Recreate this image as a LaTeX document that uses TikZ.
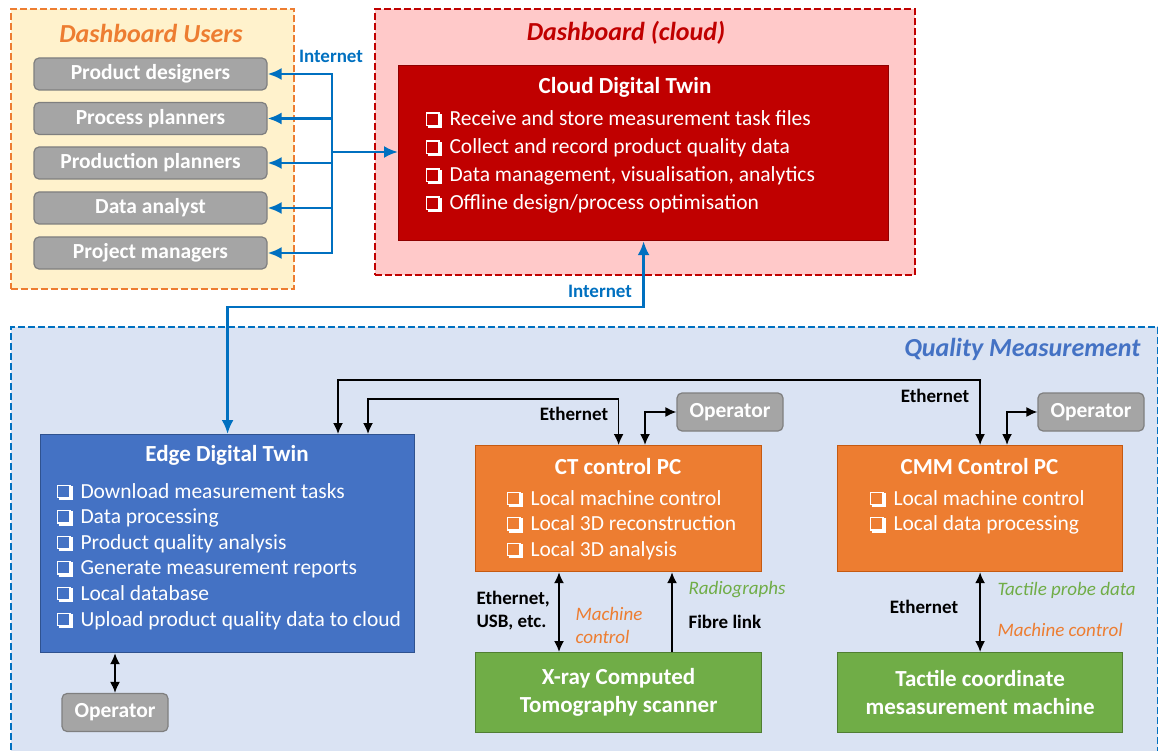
\documentclass[tikz,border=0pt]{standalone}
\usepackage{fontspec}
\setmainfont{Carlito}
\usetikzlibrary{arrows.meta,positioning}

\definecolor{usrfill}{HTML}{FFF2CC}
\definecolor{usrline}{HTML}{ED7D31}
\definecolor{cldfill}{HTML}{FFC9C9}
\definecolor{cldline}{HTML}{C00000}
\definecolor{cldedge}{HTML}{8F0000}
\definecolor{qmfill}{HTML}{DAE3F3}
\definecolor{qmline}{HTML}{0070C0}
\definecolor{qmtitle}{HTML}{4472C4}
\definecolor{edgefill}{HTML}{4472C4}
\definecolor{edgeline}{HTML}{2F528F}
\definecolor{pcfill}{HTML}{ED7D31}
\definecolor{pcline}{HTML}{C55A11}
\definecolor{mchfill}{HTML}{70AD47}
\definecolor{mchline}{HTML}{507E32}
\definecolor{opfill}{HTML}{A5A5A5}
\definecolor{opline}{HTML}{7F7F7F}
\definecolor{netblue}{HTML}{0070C0}

% shadowed check box in front of each list item
\newcommand{\chk}{\raisebox{1.2pt}{%
  \rlap{\kern2pt\rule[-3.4pt]{13.5pt}{2.2pt}}%
  \rlap{\kern13.3pt\rule[-3.4pt]{2.2pt}{14.3pt}}%
  {\fboxrule=1.2pt\fboxsep=0pt\fbox{\rule{0pt}{11.1pt}\rule{10.9pt}{0pt}}}}%
  \hspace{10pt}}
\newcommand{\mainsize}{\fontsize{21.5}{25}\selectfont}
\newcommand{\labelsize}{\fontsize{19}{23}\selectfont}

\begin{document}
\begin{tikzpicture}[x=1pt, y=-1pt,
    panel/.style={draw, line width=1.8pt, dash pattern=on 7pt off 3pt, anchor=north west, inner sep=0pt},
    paneltitle/.style={font=\fontsize{26}{30}\selectfont\bfseries\itshape},
    block/.style={draw, line width=1.2pt, anchor=north west, inner sep=0pt},
    blocktitle/.style={text=white, font=\fontsize{23}{27}\selectfont\bfseries},
    item/.style={text=white, font=\mainsize, anchor=west, inner sep=0pt, text height=15pt, text depth=5pt},
    user/.style={draw=opline, fill=opfill, line width=1.2pt, rounded corners=5pt, text=white, font=\mainsize\bfseries, minimum width=233pt, minimum height=32pt, inner sep=0pt},
    operator/.style={user, minimum width=106pt, minimum height=38pt},
    machine/.style={block, draw=mchline, fill=mchfill, minimum width=286pt, minimum height=80pt, text=white, align=center, font=\fontsize{23}{28}\selectfont\bfseries},
    net/.style={draw=netblue, line width=2.6pt, >={Latex[length=14pt,width=12pt]}},
    link/.style={draw=black, line width=1.7pt, >={Latex[length=11pt,width=10pt]}},
    netlabel/.style={text=netblue, font=\labelsize\bfseries},
    linklabel/.style={font=\labelsize\bfseries},
    note/.style={font=\labelsize\itshape}]
    \useasboundingbox (0,0) rectangle (1158,751);

    % Panels
    \node[panel, draw=usrline, fill=usrfill, minimum width=283pt, minimum height=280pt] (users) at (10,8) {};
    \node[panel, draw=cldline, fill=cldfill, minimum width=540pt, minimum height=266pt] (cloud) at (374,8) {};
    \node[panel, draw=qmline, fill=qmfill, minimum width=1147pt, minimum height=440pt] (qm) at (10,326) {};
    \node[paneltitle, text=usrline] (userstitle) at (151,33) {Dashboard Users};
    \node[paneltitle, text=cldline] (cloudtitle) at (626,33) {Dashboard (cloud)};
    \node[paneltitle, text=qmtitle, anchor=east] (qmtitle) at (1144,349) {Quality Measurement};

    % Dashboard users
    \node[user] (u1) at (150.5,74)  {Product designers};
    \node[user] (u2) at (150.5,118.5) {Process planners};
    \node[user] (u3) at (150.5,163) {Production planners};
    \node[user] (u4) at (150.5,208) {Data analyst};
    \node[user] (u5) at (150.5,253) {Project managers};

    % Cloud digital twin
    \node[block, draw=cldedge, fill=cldline, minimum width=490pt, minimum height=175pt] (cdt) at (398,65) {};
    \node[blocktitle] (cdttitle) at (625,87) {Cloud Digital Twin};
    \node[item] (cdt1) at (426,121) {\chk Receive and store measurement task files};
    \node[item] (cdt2) at (426,149) {\chk Collect and record product quality data};
    \node[item] (cdt3) at (426,177) {\chk Data management, visualisation, analytics};
    \node[item] (cdt4) at (426,205) {\chk Offline design/process optimisation};

    % Edge digital twin
    \node[block, draw=edgeline, fill=edgefill, minimum width=374pt, minimum height=218pt] (edt) at (40,434) {};
    \node[blocktitle] (edttitle) at (227,455) {Edge Digital Twin};
    \node[item] (edt1) at (57,493) {\chk Download measurement tasks};
    \node[item] (edt2) at (57,518.5) {\chk Data processing};
    \node[item] (edt3) at (57,544) {\chk Product quality analysis};
    \node[item] (edt4) at (57,569.5) {\chk Generate measurement reports};
    \node[item] (edt5) at (57,595) {\chk Local database};
    \node[item] (edt6) at (57,621) {\chk Upload product quality data to cloud};

    % Control PCs
    \node[block, draw=pcline, fill=pcfill, minimum width=286pt, minimum height=126pt] (ct) at (475,445) {};
    \node[blocktitle] (cttitle) at (618,467) {CT control PC};
    \node[item] (ct1) at (507,500) {\chk Local machine control};
    \node[item] (ct2) at (507,525.5) {\chk Local 3D reconstruction};
    \node[item] (ct3) at (507,551) {\chk Local 3D analysis};

    \node[block, draw=pcline, fill=pcfill, minimum width=285pt, minimum height=126pt] (cmm) at (837,445) {};
    \node[blocktitle] (cmmtitle) at (979.5,467) {CMM Control PC};
    \node[item] (cmm1) at (870,500) {\chk Local machine control};
    \node[item] (cmm2) at (870,525.5) {\chk Local data processing};

    % Machines
    \node[machine] (xray) at (475,652) {X-ray Computed\\Tomography scanner};
    \node[machine, minimum width=285pt] (tcm) at (837,652) {Tactile coordinate\\mesasurement machine};

    % Operators
    \node[operator] (opedt) at (115,712.5) {Operator};
    \node[operator] (opct) at (730,412) {Operator};
    \node[operator] (opcmm) at (1091,412) {Operator};

    % Internet links
    \coordinate (bus) at (332,152);
    \coordinate (inet) at (436,307);
    \draw[net,->] (bus) |- (u1);
    \draw[net,->] (bus) |- (u2);
    \draw[net,->] (bus) |- (u3);
    \draw[net,->] (bus) |- (u4);
    \draw[net,->] (bus) |- (u5);
    \draw[net,->] (bus) -- (bus -| cdt.west);
    \draw[net,<->] (edt.north) |- (inet) -| (cdt.south);

    % Local links
    \coordinate (ethA) at (338,380);
    \coordinate (ethB) at (368,399);
    \coordinate (ctop) at (645,412);
    \coordinate (cmmop) at (1007,412);
    \coordinate (ctx) at (559,611);
    \coordinate (fib) at (672,611);
    \draw[link,<->] (ethA |- edt.north) -- (ethA) -| (cmm.north);
    \draw[link,<->] (ethB |- edt.north) -- (ethB) -| (ct.north);
    \draw[link,<->] (ctop |- ct.north) |- (opct);
    \draw[link,<->] (cmmop |- cmm.north) |- (opcmm);
    \draw[link,<->] (edt.south -| opedt) -- (opedt);
    \draw[link,<->] (ctx |- ct.south) -- (ctx |- xray.north);
    \draw[link,->] (fib |- xray.north) -- (fib |- ct.south);
    \draw[link,<->] (cmm) -- (tcm);

    % Annotations
    \node[netlabel] (inet1) at (331,56) {Internet};
    \node[netlabel] (inet2) at (600,291) {Internet};
    \node[linklabel] (eth1) at (574,414) {Ethernet};
    \node[linklabel] (eth2) at (935,396) {Ethernet};
    \node[linklabel, align=left, anchor=west] (ethusb) at (473,610.5) {Ethernet,\\USB, etc.};
    \node[note, text=pcfill, align=left, anchor=west] (mcct) at (572,625.5) {Machine\\control};
    \node[note, text=mchfill, anchor=west] (radio) at (685,590) {Radiographs};
    \node[linklabel, anchor=west] (fibre) at (685,622) {Fibre link};
    \node[linklabel] (eth3) at (924,607) {Ethernet};
    \node[note, text=mchfill, anchor=west] (probe) at (994,590) {Tactile probe data};
    \node[note, text=pcfill, anchor=west] (mccmm) at (994,630) {Machine control};
\end{tikzpicture}
\end{document}
